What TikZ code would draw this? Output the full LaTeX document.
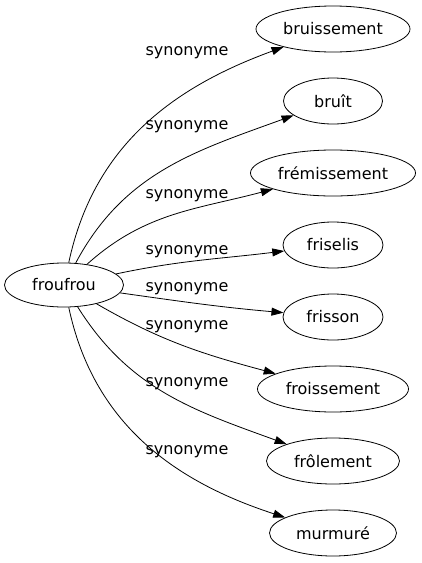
\documentclass[tikz,border=0pt]{standalone}
\usepackage{fontspec}
\setmainfont{DejaVu Sans}
\usetikzlibrary{arrows.meta,shapes.geometric}
\tikzset{
    word/.style={draw, ellipse, line width=0.8pt, minimum height=46pt, inner sep=0pt, font=\fontsize{16}{18}\selectfont},
    link/.style={line width=0.8pt, -{Triangle[length=12pt,width=8pt]}},
    linklabel/.style={font=\fontsize{16}{18}\selectfont, inner sep=0pt, anchor=base},
}

\begin{document}
\begin{tikzpicture}[x=1pt,y=-1pt]
            \useasboundingbox (0,0) rectangle (421,563);
            \node[word, minimum width=119pt, minimum height=44pt] (froufrou) at (64,285) {froufrou};
            \foreach \name/\txt/\nodew/\ypos/\outa/\ina/\laby in {
                bruissement/bruissement/154/29/78/200/55,
                bruit/bruît/99/101/62/200/129,
                fremissement/frémissement/165/173/42/195/198,
                friselis/friselis/100/245/12/187/254,
                frisson/frisson/100/317/-8/175/291,
                froissement/froissement/151/389/-30/165/329,
                frolement/frôlement/133/461/-58/160/386,
                murmure/murmuré/127/533/-78/162/454}{
                \node[word, minimum width=\nodew pt] (\name) at (333,\ypos) {\txt};
                \draw[link] (froufrou) to[out=\outa, in=\ina] (\name);
                \node[linklabel] (lbl-\name) at (187,\laby) {synonyme};
            }
        \end{tikzpicture}
\end{document}
